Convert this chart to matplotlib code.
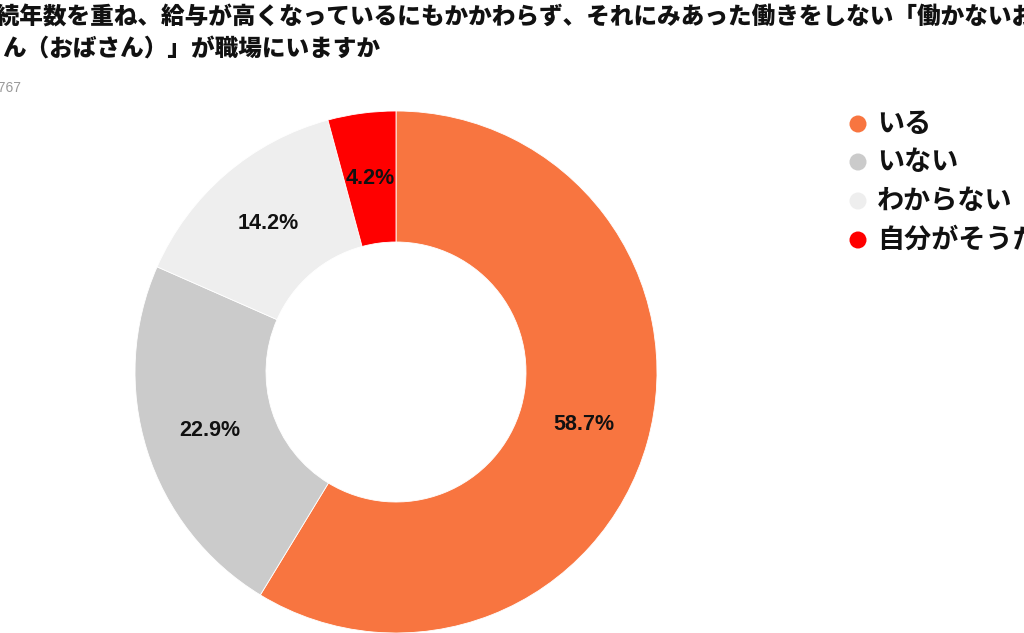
"""Donut chart: 働かないおじさん（おばさん）が職場にいますか."""

import matplotlib
matplotlib.use("Agg")
import matplotlib.pyplot as plt

plt.rcParams["font.family"] = ["Noto Sans CJK JP", "DejaVu Sans"]

# Data
categories = ["いる", "いない", "わからない", "自分がそうだ"]
shares = [58.7, 22.9, 14.2, 4.2]
colors = ["#F87540", "#CBCBCB", "#EEEEEE", "#FF0000"]

title_line1 = "勤続年数を重ね、給与が高くなっているにもかかわらず、それにみあった働きをしない「働かないおじさ"
title_line2 = "ん（おばさん）」が職場にいますか"
sample_note = "n=767"

W, H = 1024, 633
fig = plt.figure(figsize=(W / 100, H / 100), dpi=100)
# Axes covering the whole canvas, one data unit = one pixel
ax = fig.add_axes([0, 0, 1, 1])

cx, cy = 396, H - 372
r_out, r_in = 261, 130

wedges, _, autotexts = ax.pie(
    shares,
    colors=colors,
    startangle=90,
    counterclock=False,
    center=(cx, cy),
    radius=r_out,
    autopct="%.1f%%",
    pctdistance=(r_out + r_in) / 2 / r_out,
    wedgeprops=dict(width=r_out - r_in, edgecolor="white", linewidth=0.6),
    frame=True,
)
ax.set_xlim(0, W)
ax.set_ylim(0, H)
ax.set_aspect("equal")
ax.axis("off")
for t in autotexts:
    t.set_fontfamily(["Liberation Sans", "DejaVu Sans"])
    t.set_fontweight("bold")
    t.set_fontsize(15.5)
    t.set_color("#111111")

# Title (cropped at the canvas edges like the reference)
ax.text(-28, H - 17, title_line1, fontsize=17, fontweight="heavy",
        ha="left", va="center", color="#111111")
ax.text(2, H - 48, title_line2, fontsize=17, fontweight="heavy",
        ha="left", va="center", color="#111111")
ax.text(21, H - 88, sample_note, fontsize=10, ha="right", va="center",
        color="#999999", family=["Liberation Sans", "DejaVu Sans"])

# Legend
leg_y = [124, 162, 201, 240]
for label, color, y in zip(categories, colors, leg_y):
    ax.scatter([858], [H - y], s=150, color=color, edgecolors="none")
    ax.text(877, H - y, label, fontsize=19.5, fontweight="bold",
            ha="left", va="center", color="#111111")

fig.savefig("out.png", dpi=100)
